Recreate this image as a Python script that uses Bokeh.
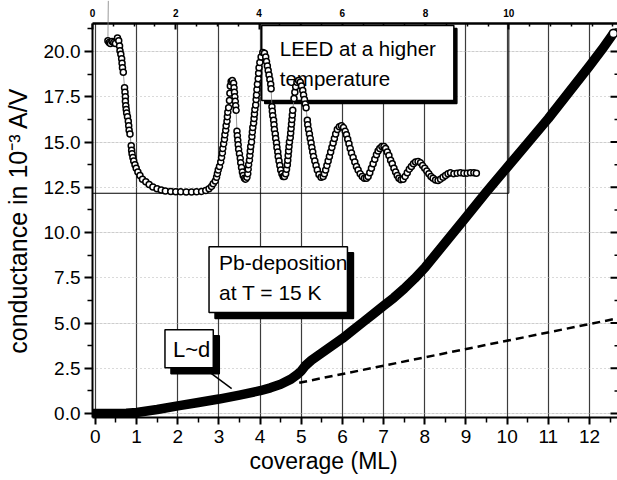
import math

from bokeh.plotting import figure
from bokeh.models import (Range1d, LinearAxis, FixedTicker, Grid, Label,
                          NumeralTickFormatter, Title)
from bokeh.embed import file_html
from bokeh.resources import INLINE

# ---- Pb deposition at 15 K: conductance vs. coverage ----
coverage = [-0.05, 0.25, 0.5, 0.75, 1.0, 1.5, 2.0, 2.5, 3.0, 3.5, 4.0, 4.25,
            4.5, 4.75, 4.9, 5.0, 5.1, 5.25, 5.5, 5.75, 6.0, 6.25, 6.5, 6.75,
            7.0, 7.25, 7.5, 7.75, 8.0, 8.5, 9.0, 9.5, 10.0, 10.5, 11.0, 11.5,
            12.0, 12.3, 12.58]
conductance = [0.0, 0.0, 0.0, 0.02, 0.06, 0.22, 0.42, 0.61, 0.80, 1.02, 1.26, 1.42,
               1.62, 1.90, 2.15, 2.35, 2.65, 2.95, 3.35, 3.75, 4.15, 4.6, 5.05, 5.5,
               5.95, 6.4, 6.9, 7.45, 8.05, 9.45, 10.85, 12.25, 13.6, 14.95, 16.3, 17.75,
               19.2, 20.1, 21.0]

# linear extrapolation of the thin-film regime
fit_coverage = [4.95, 12.6]
fit_conductance = [1.70, 5.22]

# ---- inset: LEED intensity oscillations at a higher temperature ----
leed_coverage = [
    0.38, 0.37, 0.40, 0.43, 0.47, 0.51, 0.55, 0.60, 0.63, 0.65, 0.66, 0.68,
    0.70, 0.71, 0.72, 0.74, 0.77, 0.78, 0.79, 0.79, 0.80, 0.81, 0.82,
    0.84, 0.86, 0.87, 0.88, 0.90, 0.93, 0.94, 0.95, 0.97,
    0.99, 1.02, 1.05, 1.09, 1.14, 1.20, 1.28, 1.36, 1.45, 1.55,
    1.65, 1.75, 1.88, 2.0, 2.12, 2.25, 2.38, 2.5, 2.62,
    2.72, 2.80, 2.86, 2.90, 2.95, 2.98, 3.0, 3.02, 3.05,
    3.08, 3.10, 3.12, 3.13, 3.15, 3.17, 3.18, 3.20, 3.21, 3.23, 3.24, 3.25, 3.27,
    3.29, 3.30, 3.31, 3.33, 3.36, 3.39, 3.40, 3.41, 3.42, 3.43, 3.44, 3.45,
    3.47, 3.48, 3.49, 3.50, 3.51, 3.53, 3.55, 3.56, 3.58, 3.60, 3.62, 3.65, 3.68,
    3.71, 3.73, 3.74, 3.75, 3.77, 3.78, 3.79, 3.80,
    3.82, 3.83, 3.84, 3.85, 3.87, 3.88, 3.89, 3.90, 3.92, 3.93, 3.94, 3.95, 3.96, 3.98,
    3.99, 4.0, 4.02, 4.05, 4.09, 4.13, 4.16,
    4.18, 4.20, 4.22, 4.24, 4.26, 4.28, 4.29,
    4.31, 4.32, 4.33, 4.35, 4.36, 4.37, 4.39, 4.40,
    4.42, 4.43, 4.45, 4.46, 4.48, 4.50, 4.52, 4.55, 4.58, 4.61, 4.64,
    4.66, 4.68, 4.69, 4.70, 4.71, 4.72, 4.73, 4.75, 4.76, 4.77, 4.78, 4.79, 4.80, 4.81,
    4.84, 4.86, 4.88, 4.91, 4.95, 4.99, 5.02,
    5.05, 5.07, 5.09, 5.11, 5.13,
    5.16, 5.17, 5.19, 5.21, 5.23, 5.25, 5.27, 5.29, 5.31,
    5.34, 5.37, 5.40, 5.44, 5.49, 5.54, 5.57,
    5.60, 5.63, 5.66, 5.69, 5.72, 5.75, 5.78, 5.81, 5.84, 5.88,
    5.93, 5.98, 6.03, 6.07,
    6.10, 6.13, 6.16, 6.19, 6.22, 6.26, 6.30, 6.34,
    6.38, 6.43, 6.48, 6.53, 6.58, 6.62,
    6.66, 6.70, 6.74, 6.78, 6.82, 6.86, 6.90, 6.95, 7.0, 7.04,
    7.08, 7.12, 7.16, 7.20, 7.24, 7.28, 7.32, 7.36, 7.41, 7.46,
    7.51, 7.56, 7.61, 7.66, 7.71, 7.76, 7.82, 7.88,
    7.93, 7.98, 8.03, 8.08, 8.13, 8.18, 8.24, 8.30, 8.36,
    8.42, 8.48, 8.54, 8.60, 8.68, 8.76, 8.84, 8.92, 9.0, 9.08, 9.16, 9.22,
]
leed_intensity = [
    22.8, 20.6, 20.5, 20.45, 20.55, 20.5, 20.45, 20.75, 20.6, 20.3, 20.05, 19.85,
    19.6, 19.35, 19.1, 18.85, 18.0, 17.75, 17.5, 17.25, 17.0, 16.8, 16.6,
    16.4, 16.15, 15.9, 15.65, 15.45, 14.8, 14.55, 14.35, 14.15,
    13.95, 13.75, 13.55, 13.35, 13.15, 12.95, 12.8, 12.65, 12.52, 12.42,
    12.35, 12.3, 12.27, 12.25, 12.25, 12.24, 12.24, 12.25, 12.27,
    12.32, 12.42, 12.55, 12.7, 12.85, 13.05, 13.25, 13.45, 13.65,
    13.9, 14.15, 14.4, 14.65, 14.9, 15.15, 15.4, 15.65, 15.9, 16.15, 16.4, 16.65, 16.9,
    17.3, 17.7, 18.1, 18.35, 18.4, 18.25, 18.0, 17.75, 17.5, 17.25, 17.0, 16.75,
    15.6, 15.35, 15.1, 14.85, 14.6, 14.35, 14.1, 13.85, 13.6, 13.35, 13.15, 13.0, 12.95,
    13.05, 13.25, 13.5, 13.75, 14.0, 14.25, 14.5, 14.75,
    15.0, 15.3, 15.55, 15.8, 16.05, 16.3, 16.55, 16.8, 17.05, 17.35, 17.6, 17.9, 18.2, 18.5,
    18.8, 19.1, 19.4, 19.7, 19.95, 19.9, 19.7,
    19.45, 19.2, 18.95, 18.7, 18.45, 18.2, 17.95,
    16.95, 16.7, 16.45, 16.2, 15.95, 15.7, 15.45, 15.2,
    14.95, 14.7, 14.45, 14.2, 13.95, 13.7, 13.45, 13.25, 13.1, 13.1, 13.25,
    13.5, 13.75, 14.0, 14.25, 14.5, 14.75, 15.0, 15.25, 15.5, 15.75, 16.0, 16.25, 16.5, 16.75,
    17.4, 17.75, 18.05, 18.3, 18.4, 18.3, 18.1,
    17.85, 17.6, 17.35, 17.1, 16.9,
    16.2, 15.95, 15.7, 15.45, 15.2, 14.95, 14.7, 14.45, 14.2,
    13.95, 13.7, 13.45, 13.2, 13.05, 13.1, 13.25,
    13.45, 13.7, 13.95, 14.2, 14.45, 14.7, 14.95, 15.2, 15.45, 15.7,
    15.85, 15.9, 15.8, 15.6,
    15.4, 15.15, 14.9, 14.65, 14.4, 14.15, 13.9, 13.65,
    13.45, 13.25, 13.1, 13.0, 13.0, 13.1,
    13.3, 13.55, 13.8, 14.05, 14.3, 14.5, 14.65, 14.75, 14.75, 14.65,
    14.45, 14.25, 14.0, 13.8, 13.55, 13.35, 13.15, 13.0, 12.92, 12.95,
    13.1, 13.3, 13.5, 13.65, 13.8, 13.9, 13.92, 13.85,
    13.7, 13.55, 13.4, 13.25, 13.1, 13.0, 12.9, 12.88, 12.95,
    13.05, 13.15, 13.25, 13.3, 13.25, 13.28, 13.3, 13.27, 13.28, 13.3, 13.3, 13.28,
]

# axis ticks
x_major = list(range(0, 13))
x_minor = [k + 0.5 for k in range(-1, 13)]
y_major = [2.5 * k for k in range(0, 9)]
y_minor = [1.25 + 2.5 * k for k in range(-1, 9)]
inset_major = [0, 2, 4, 6, 8, 10]
inset_minor = [k * 0.5 for k in range(0, 26) if k * 0.5 not in inset_major]

X_RANGE = (-0.07, 12.68)
Y_RANGE = (-0.22, 21.55)
INSET_RANGE = (0.0, 12.61)
INSET_RIGHT = 10.0
INSET_FLOOR = 12.17

FONT = "Liberation Sans"

p = figure(width=617, height=480, output_backend="svg", toolbar_location=None,
           x_range=Range1d(*X_RANGE), y_range=Range1d(*Y_RANGE),
           x_axis_location=None, y_axis_location=None,
           min_border_left=90, min_border_right=0, min_border_top=23,
           min_border_bottom=63)
p.extra_x_ranges = {"inset": Range1d(*INSET_RANGE)}
p.outline_line_color = None
p.background_fill_color = "white"
p.border_fill_color = "white"


def style_axis(ax, tick_out, tick_in, minor_out, minor_in):
    ax.axis_line_color = "black"
    ax.axis_line_width = 2
    ax.major_tick_line_color = "black"
    ax.major_tick_line_width = 2
    ax.minor_tick_line_color = "black"
    ax.minor_tick_line_width = 1.5
    ax.major_tick_out = tick_out
    ax.major_tick_in = tick_in
    ax.minor_tick_out = minor_out
    ax.minor_tick_in = minor_in
    ax.major_label_text_font = FONT
    ax.major_label_text_color = "black"


bottom = LinearAxis(ticker=FixedTicker(ticks=x_major, minor_ticks=x_minor))
style_axis(bottom, 7, 0, 5, 0)
bottom.major_label_text_font_size = "19px"
bottom.major_label_standoff = 5
p.add_layout(bottom, "below")

left = LinearAxis(ticker=FixedTicker(ticks=y_major, minor_ticks=y_minor),
                  formatter=NumeralTickFormatter(format="0.0"))
style_axis(left, 8, 0, 5, 0)
left.major_label_text_font_size = "19px"
left.major_label_standoff = 4
left.axis_label = "conductance in 10\u207b\u00b3 A/V"
left.axis_label_text_font = FONT
left.axis_label_text_font_size = "25px"
left.axis_label_text_font_style = "normal"
left.axis_label_text_color = "black"
left.axis_label_standoff = 9
p.add_layout(left, "left")

top = LinearAxis(x_range_name="inset",
                 ticker=FixedTicker(ticks=inset_major, minor_ticks=inset_minor))
style_axis(top, 0, 6, 0, 3)
top.axis_line_width = 2.5
top.major_label_text_font_size = "10px"
top.major_label_text_font_style = "bold"
top.major_label_standoff = 7
p.add_layout(top, "above")

p.add_layout(Title(text="coverage (ML)", align="left", offset=157, standoff=0,
                   text_font=FONT, text_font_size="23px",
                   text_font_style="normal", text_color="black"), "below")

p.add_layout(Grid(dimension=0, ticker=FixedTicker(ticks=x_major),
                  grid_line_color="#3c3c3c", grid_line_width=1.2))
p.add_layout(Grid(dimension=1, ticker=FixedTicker(ticks=y_major),
                  grid_line_color="#b4b4b4", grid_line_width=1.2,
                  grid_line_dash="1 3"))

# mirrored y ticks along the right edge of the frame, pointing inward
p.ray(x=[X_RANGE[1]] * len(y_major), y=y_major, length=7, length_units="screen",
      angle=math.pi, line_color="black", line_width=2)
p.ray(x=[X_RANGE[1]] * len(y_minor), y=y_minor, length=3, length_units="screen",
      angle=math.pi, line_color="black", line_width=1.5)

# inset frame
p.line([0, INSET_RIGHT, INSET_RIGHT], [INSET_FLOOR, INSET_FLOOR, Y_RANGE[1] + 1],
       x_range_name="inset", line_color="black", line_width=1)

# main data and its linear extrapolation
p.line(fit_coverage, fit_conductance, line_color="black", line_width=2.5,
       line_dash="8 5")
p.line(coverage, conductance, line_color="black", line_width=9.5,
       line_cap="round", line_join="round")
p.scatter(coverage[-1:], conductance[-1:], size=8, fill_color="white",
          line_color="black", line_width=1.5)

# pointer from the L~d box to the curve
p.line([2.73, 3.31], [2.36, 1.38], line_color="black", line_width=1.5)


def boxed(text, x, y, size, shadow, pad):
    for dx, is_shadow in ((shadow, True), (0, False)):
        lab = Label(x=x, y=y, text=text, x_offset=dx, y_offset=-dx,
                    text_font=FONT, text_font_size=size, text_align="left",
                    text_baseline="top", text_line_height=1.3,
                    text_color="black",
                    background_fill_color="black" if is_shadow else "white",
                    border_line_color="black", border_line_width=1.5,
                    padding=pad)
        p.add_layout(lab)


boxed("LEED at a higher\ntemperature", 4.04, 21.44, "20.5px", 3,
      dict(left=18, right=18, top=12, bottom=10))
boxed("Pb-deposition\nat T = 15 K", 2.76, 9.22, "21px", 6,
      dict(left=10, right=0, top=4, bottom=9))
boxed("L~d", 1.69, 4.63, "22px", 6, dict(left=8, right=3, top=7, bottom=6))

# inset data above the boxes
p.line(leed_coverage, leed_intensity, x_range_name="inset",
       line_color="#808080", line_width=0.8, level="overlay")
p.scatter(leed_coverage, leed_intensity, x_range_name="inset", size=6,
          fill_color="white", line_color="black", line_width=1.5,
          level="overlay")

open("out.html", "w").write(file_html(p, INLINE))
